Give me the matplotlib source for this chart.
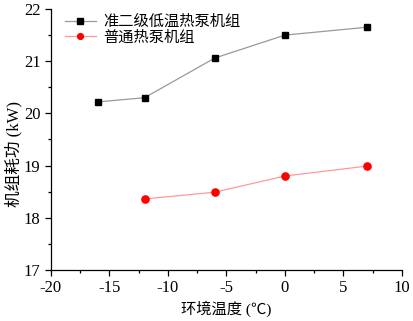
import numpy as np
import matplotlib.pyplot as plt
from matplotlib.ticker import MultipleLocator

plt.rcParams['font.family'] = ['Liberation Serif', 'Noto Sans CJK SC']
plt.rcParams['axes.unicode_minus'] = False

# data
temp_a = [-16, -12, -6, 0, 7]
power_a = [20.22, 20.30, 21.06, 21.50, 21.65]
temp_b = [-12, -6, 0, 7]
power_b = [18.36, 18.49, 18.80, 18.99]
label_a = '准二级低温热泵机组'
label_b = '普通热泵机组'

fig = plt.figure(figsize=(4.14, 3.21), dpi=100)
ax = fig.add_axes([0.123, 0.159, 0.848, 0.813])

ax.plot(temp_a, power_a, color='#999999', lw=0.9, marker='s', ms=5,
        mfc='k', mec='k', label=label_a)
ax.plot(temp_b, power_b, color='#ff9999', lw=0.9, marker='o', ms=5.2,
        mfc='red', mec='red', label=label_b)

ax.set_xlim(-20, 10)
ax.set_ylim(17, 22)
ax.xaxis.set_major_locator(MultipleLocator(5))
ax.xaxis.set_minor_locator(MultipleLocator(2.5))
ax.yaxis.set_major_locator(MultipleLocator(1))
ax.yaxis.set_minor_locator(MultipleLocator(0.5))
ax.tick_params(which='major', direction='out', length=4, width=0.9, labelsize=12)
ax.tick_params(which='minor', direction='out', length=2.5, width=0.9)

for s in ['top', 'right']:
    ax.spines[s].set_visible(False)
for s in ['left', 'bottom']:
    ax.spines[s].set_linewidth(0.9)

ax.set_xlabel('环境温度 (℃)', fontsize=11, labelpad=3)
ax.set_ylabel('机组耗功 (kW)', fontsize=12)
ax.yaxis.set_label_coords(-0.08, 0.445)

ax.legend(loc='upper left', bbox_to_anchor=(0.023, 1.0), frameon=False,
          fontsize=11, handlelength=2.0, handletextpad=0.5, labelspacing=0.05,
          borderaxespad=0, markerscale=0.8)

fig.savefig('out.png', dpi=100)
